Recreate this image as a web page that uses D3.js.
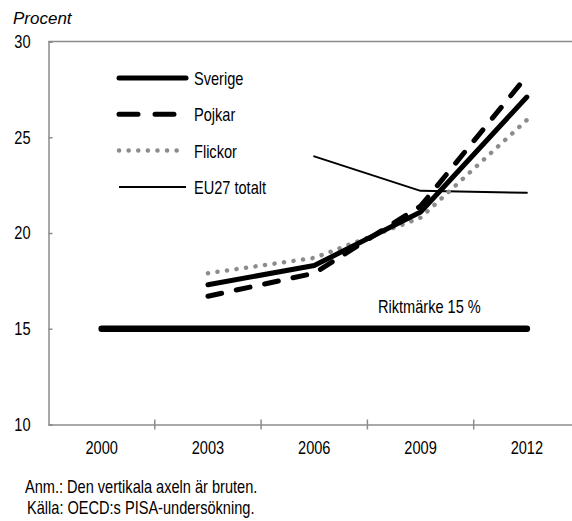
<!DOCTYPE html>
<html>
<head>
<meta charset="utf-8">
<script src="https://cdn.jsdelivr.net/npm/d3@7"></script>
<style>
  body { margin: 0; background: #fff; }
  text { font-family: "Liberation Sans", Arial, sans-serif; fill: #000; }
</style>
</head>
<body>
<script>
var years = ["2000", "2003", "2006", "2009", "2012"];
var sverige = [null, 17.3, 18.3, 21.1, 27.1];
var pojkar = [null, 16.7, 17.9, 21.4, 28.2];
var flickor = [null, 17.9, 18.7, 20.8, 25.9];
var eu27 = [null, null, 24.0, 22.2, 22.1];
var riktmarke = [15, 15, 15, 15, 15];
var yTicks = [10, 15, 20, 25, 30];
var notes = ["Anm.: Den vertikala axeln är bruten.", "Källa: OECD:s PISA-undersökning."];

var w = 572;
var h = 521;
var sx = 0.81; // smal stil, texten trycks ihop på bredden

var svg = d3.select("body").append("svg").attr("width", w).attr("height", h);

var xScale = d3.scaleBand().domain(years).range([48.5, 580]);
var yScale = d3.scaleLinear().domain([10, 30]).range([424.5, 41.5]);
function cx(d, i) { return xScale(years[i]) + xScale.bandwidth() / 2; }

function narrowText(txt, x, y) {
    return svg.append("text").text(txt)
        .attr("transform", "translate(" + x + "," + y + ") scale(" + sx + ",1)")
        .attr("font-size", "18px");
}

// ramar och axlar
svg.append("line").attr("x1", 48.5).attr("x2", w).attr("y1", 41.5).attr("y2", 41.5)
    .attr("stroke", "#8c8c8c").attr("stroke-width", 1.5);

var yAxis = d3.axisLeft(yScale).tickValues(yTicks).tickSize(-4).tickPadding(18);
var gy = svg.append("g").attr("transform", "translate(48.5,0)").call(yAxis);
gy.select(".domain").attr("stroke", "#8c8c8c").attr("stroke-width", 1.5);
gy.selectAll(".tick line").attr("stroke", "#8c8c8c").attr("stroke-width", 1.5);
gy.selectAll(".tick text").attr("font-size", "18px").attr("font-family", null)
    .attr("x", -18 / sx).attr("transform", "scale(" + sx + ",1)");

var xAxis = d3.axisBottom(xScale).tickSize(0).tickPadding(17);
var gx = svg.append("g").attr("transform", "translate(0,424.5)").call(xAxis);
gx.select(".domain").attr("stroke", "#8c8c8c").attr("stroke-width", 1.5);
gx.selectAll(".tick text").attr("font-size", "18px").attr("font-family", null)
    .attr("transform", "scale(" + sx + ",1)");
gx.selectAll(".sep").data(years).enter().append("line")
    .attr("x1", function (d) { return xScale(d) + xScale.step(); })
    .attr("x2", function (d) { return xScale(d) + xScale.step(); })
    .attr("y1", -5).attr("y2", 5)
    .attr("stroke", "#8c8c8c").attr("stroke-width", 1.5);

svg.append("text").text("Procent").attr("x", 13).attr("y", 24)
    .attr("font-style", "italic").attr("font-size", "17px");

// serier
var line = d3.line()
    .defined(function (d) { return d != null; })
    .x(cx)
    .y(function (d) { return yScale(d); });

var series = [
    { name: "Riktmärke", data: riktmarke, color: "#000", width: 6.5, dash: null },
    { name: "EU27 totalt", data: eu27, color: "#000", width: 2, dash: null },
    { name: "Flickor", data: flickor, color: "#8c8c8c", width: 4.5, dash: "0.1 9.5" },
    { name: "Sverige", data: sverige, color: "#000", width: 5, dash: null },
    { name: "Pojkar", data: pojkar, color: "#000", width: 5, dash: "14 15" }
];

svg.selectAll(".serie").data(series).enter().append("path")
    .attr("class", "serie")
    .attr("d", function (s) { return line(s.data); })
    .attr("fill", "none")
    .attr("stroke", function (s) { return s.color; })
    .attr("stroke-width", function (s) { return s.width; })
    .attr("stroke-dasharray", function (s) { return s.dash; })
    .attr("stroke-linecap", "round")
    .attr("stroke-linejoin", "round");

narrowText("Riktmärke 15 %", 378, 313);

// förklaring
var legendItems = ["Sverige", "Pojkar", "Flickor", "EU27 totalt"].map(function (n) {
    return series.filter(function (s) { return s.name === n; })[0];
});
legendItems.forEach(function (s, i) {
    var y = 78 + i * 36.3;
    svg.append("line").attr("x1", 119).attr("x2", 186).attr("y1", y).attr("y2", y)
        .attr("stroke", s.color)
        .attr("stroke-width", s.width)
        .attr("stroke-dasharray", s.name === "Pojkar" ? "19 17" : s.dash)
        .attr("stroke-linecap", s.name === "EU27 totalt" ? "butt" : "round");
    narrowText(s.name, 194, y + 7);
});

// noter
notes.forEach(function (d, i) {
    narrowText(d, 25 + i * 2, 493 + i * 21);
});
</script>
</body>
</html>
